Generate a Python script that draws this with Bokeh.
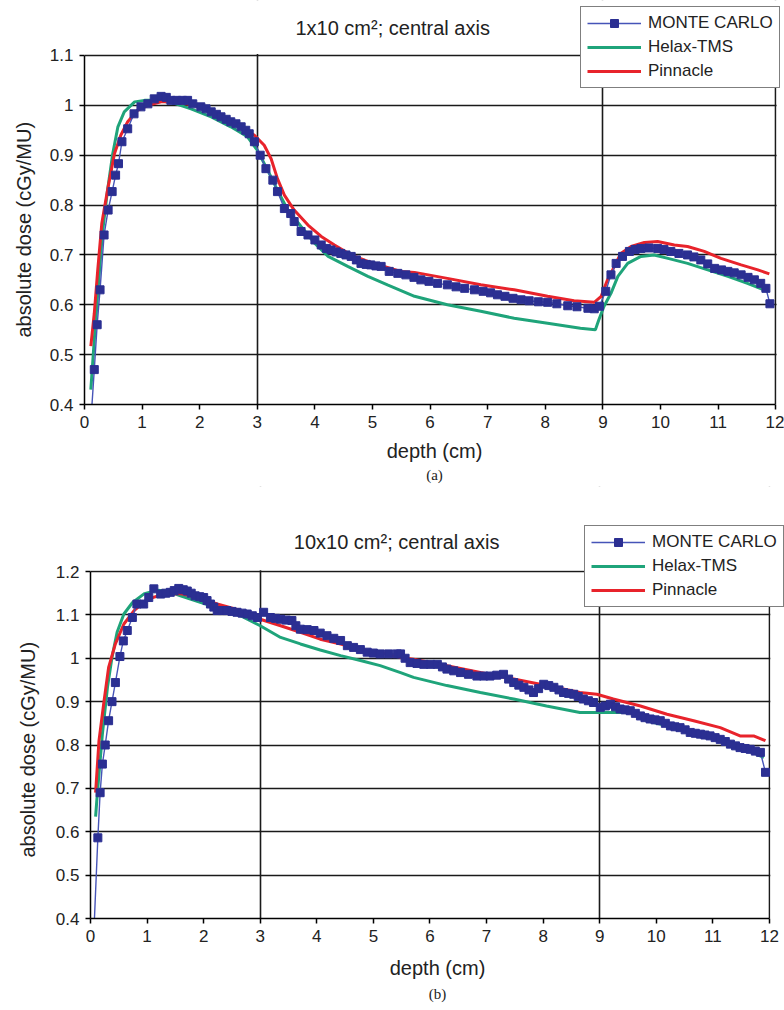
from bokeh.plotting import figure
from bokeh.models import (FixedTicker, CustomJSTickFormatter, Legend, LegendItem,
                          Label, Range1d, BoxAnnotation, Title)
from bokeh.embed import file_html
from bokeh.resources import INLINE

# ---------------- data: panel (a) 1x10 cm2 ----------------
a_title = "1x10 cm²; central axis"
a_mc_depth = [0.13, 0.17, 0.22, 0.27, 0.34, 0.41, 0.48, 0.54, 0.59, 0.65,
              0.75, 0.86, 0.98, 1.10, 1.21, 1.33, 1.42, 1.50, 1.60, 1.70,
              1.79, 1.88, 2.02, 2.11, 2.20, 2.29, 2.37, 2.46, 2.54, 2.63,
              2.72, 2.80, 2.86, 2.95, 3.05, 3.15, 3.27, 3.35, 3.47, 3.58,
              3.64, 3.76, 3.88, 4.00, 4.11, 4.20, 4.28, 4.37, 4.45, 4.54,
              4.63, 4.72, 4.80, 4.89, 4.97, 5.06, 5.15, 5.29, 5.44, 5.58,
              5.72, 5.84, 5.98, 6.13, 6.30, 6.45, 6.60, 6.77, 6.92, 7.05,
              7.17, 7.30, 7.44, 7.58, 7.72, 7.88, 8.04, 8.20, 8.39, 8.55,
              8.74, 8.85, 8.94, 9.05, 9.14, 9.23, 9.34, 9.46, 9.56, 9.66,
              9.80, 9.95, 10.06, 10.18, 10.32, 10.47, 10.58, 10.70, 10.82, 10.94,
              11.06, 11.17, 11.28, 11.40, 11.52, 11.63, 11.74, 11.83, 11.90]
a_mc_dose = [0.40, 0.47, 0.56, 0.63, 0.74, 0.79, 0.827, 0.86, 0.883, 0.927,
             0.953, 0.983, 0.997, 1.003, 1.013, 1.018, 1.016, 1.010, 1.010, 1.010,
             1.010, 1.003, 0.997, 0.993, 0.987, 0.982, 0.977, 0.972, 0.967, 0.963,
             0.957, 0.950, 0.943, 0.927, 0.900, 0.873, 0.850, 0.827, 0.793, 0.783,
             0.767, 0.747, 0.740, 0.730, 0.720, 0.713, 0.710, 0.706, 0.703, 0.700,
             0.697, 0.690, 0.683, 0.681, 0.680, 0.678, 0.677, 0.667, 0.663, 0.660,
             0.655, 0.650, 0.647, 0.643, 0.640, 0.636, 0.633, 0.630, 0.627, 0.624,
             0.620, 0.617, 0.613, 0.610, 0.608, 0.606, 0.605, 0.602, 0.598, 0.596,
             0.593, 0.592, 0.597, 0.627, 0.660, 0.683, 0.697, 0.707, 0.711, 0.713,
             0.714, 0.713, 0.711, 0.707, 0.703, 0.700, 0.696, 0.690, 0.682, 0.673,
             0.670, 0.667, 0.664, 0.660, 0.655, 0.650, 0.643, 0.633, 0.602]
a_helax_depth = [0.11, 0.17, 0.23, 0.31, 0.40, 0.49, 0.58, 0.69, 0.87, 1.04,
                 1.27, 1.56, 1.85, 2.20, 2.54, 2.83, 3.00, 3.18, 3.35, 3.53,
                 3.76, 4.00, 4.23, 4.57, 4.92, 5.26, 5.73, 6.30, 6.88, 7.46,
                 8.04, 8.61, 8.87, 8.93, 9.02, 9.14, 9.26, 9.43, 9.66, 9.89,
                 10.13, 10.47, 10.82, 11.17, 11.51, 11.86]
a_helax_dose = [0.430, 0.530, 0.623, 0.743, 0.830, 0.903, 0.957, 0.987, 1.007, 1.010,
                1.010, 1.004, 0.993, 0.977, 0.957, 0.937, 0.910, 0.870, 0.830, 0.790,
                0.757, 0.723, 0.697, 0.677, 0.657, 0.640, 0.617, 0.600, 0.587, 0.573,
                0.563, 0.553, 0.550, 0.570, 0.597, 0.623, 0.657, 0.683, 0.697, 0.700,
                0.693, 0.683, 0.670, 0.657, 0.643, 0.627]
a_pinn_depth = [0.11, 0.17, 0.23, 0.30, 0.40, 0.52, 0.63, 0.75, 0.92, 1.10,
                1.33, 1.56, 1.91, 2.31, 2.72, 2.95, 3.12, 3.24, 3.35, 3.47,
                3.64, 3.88, 4.11, 4.34, 4.63, 4.92, 5.20, 5.49, 5.73, 6.30,
                6.88, 7.46, 8.04, 8.50, 8.85, 8.97, 9.08, 9.20, 9.31, 9.49,
                9.72, 9.95, 10.24, 10.47, 10.76, 11.05, 11.40, 11.69, 11.89]
a_pinn_dose = [0.517, 0.583, 0.670, 0.763, 0.830, 0.903, 0.940, 0.967, 0.990, 1.000,
               1.007, 1.007, 1.000, 0.980, 0.957, 0.940, 0.920, 0.893, 0.853, 0.820,
               0.790, 0.760, 0.737, 0.720, 0.700, 0.687, 0.677, 0.667, 0.665, 0.653,
               0.640, 0.630, 0.617, 0.608, 0.605, 0.617, 0.650, 0.677, 0.703, 0.717,
               0.725, 0.727, 0.720, 0.717, 0.707, 0.693, 0.680, 0.670, 0.662]
a_y_ticks = [0.4, 0.5, 0.6, 0.7, 0.8, 0.9, 1.0, 1.1]

# ---------------- data: panel (b) 10x10 cm2 ----------------
b_title = "10x10 cm²; central axis"
b_mc_depth = [0.07, 0.13, 0.17, 0.21, 0.26, 0.32, 0.38, 0.44, 0.52, 0.58,
              0.65, 0.74, 0.82, 0.94, 1.03, 1.12, 1.24, 1.33, 1.41, 1.48,
              1.56, 1.64, 1.71, 1.78, 1.85, 1.93, 2.00, 2.06, 2.12, 2.18,
              2.24, 2.33, 2.41, 2.50, 2.59, 2.68, 2.77, 2.86, 2.95, 3.06,
              3.18, 3.27, 3.36, 3.46, 3.56, 3.63, 3.71, 3.83, 3.95, 4.06,
              4.18, 4.30, 4.42, 4.54, 4.65, 4.77, 4.89, 5.00, 5.12, 5.27,
              5.42, 5.48, 5.56, 5.65, 5.77, 5.89, 6.01, 6.13, 6.22, 6.30,
              6.42, 6.54, 6.68, 6.83, 6.95, 7.06, 7.18, 7.30, 7.39, 7.48,
              7.57, 7.66, 7.75, 7.83, 7.92, 8.01, 8.10, 8.19, 8.28, 8.36,
              8.45, 8.54, 8.62, 8.71, 8.80, 8.89, 9.01, 9.10, 9.19, 9.28,
              9.36, 9.45, 9.54, 9.63, 9.72, 9.80, 9.89, 9.98, 10.07, 10.16,
              10.25, 10.33, 10.42, 10.51, 10.60, 10.69, 10.78, 10.86, 10.95, 11.04,
              11.13, 11.22, 11.31, 11.40, 11.48, 11.57, 11.66, 11.75, 11.84, 11.93]
b_mc_dose = [0.40, 0.586, 0.69, 0.756, 0.80, 0.856, 0.90, 0.944, 1.004, 1.04,
             1.064, 1.094, 1.125, 1.125, 1.14, 1.16, 1.148, 1.150, 1.152, 1.156,
             1.161, 1.158, 1.155, 1.150, 1.144, 1.142, 1.140, 1.133, 1.125, 1.118,
             1.110, 1.110, 1.110, 1.108, 1.106, 1.104, 1.102, 1.098, 1.094, 1.106,
             1.094, 1.092, 1.090, 1.088, 1.087, 1.075, 1.067, 1.066, 1.064, 1.058,
             1.052, 1.046, 1.041, 1.029, 1.025, 1.020, 1.014, 1.012, 1.010, 1.010,
             1.010, 1.010, 1.000, 0.990, 0.988, 0.986, 0.986, 0.986, 0.980, 0.975,
             0.971, 0.967, 0.963, 0.959, 0.959, 0.959, 0.961, 0.963, 0.952, 0.944,
             0.938, 0.933, 0.927, 0.921, 0.930, 0.940, 0.937, 0.933, 0.927, 0.921,
             0.919, 0.917, 0.912, 0.906, 0.902, 0.898, 0.887, 0.890, 0.894, 0.888,
             0.883, 0.881, 0.879, 0.873, 0.867, 0.863, 0.860, 0.858, 0.856, 0.850,
             0.844, 0.842, 0.840, 0.835, 0.829, 0.827, 0.825, 0.823, 0.821, 0.817,
             0.813, 0.808, 0.802, 0.798, 0.794, 0.792, 0.790, 0.786, 0.783, 0.737]
b_helax_depth = [0.09, 0.12, 0.21, 0.30, 0.38, 0.47, 0.59, 0.74, 0.94, 1.18,
                 1.36, 1.59, 1.94, 2.30, 2.65, 3.00, 3.36, 3.71, 4.06, 4.42,
                 4.77, 5.12, 5.48, 5.71, 6.30, 6.89, 7.48, 8.06, 8.65, 9.01,
                 9.54, 9.84, 10.19, 10.54, 10.90, 11.25, 11.60, 11.90]
b_helax_dose = [0.635, 0.687, 0.825, 0.933, 1.002, 1.060, 1.102, 1.128, 1.148, 1.157,
                1.155, 1.144, 1.129, 1.114, 1.098, 1.075, 1.048, 1.033, 1.019, 1.006,
                0.995, 0.983, 0.967, 0.956, 0.937, 0.921, 0.906, 0.890, 0.875, 0.875,
                0.875, 0.856, 0.844, 0.833, 0.821, 0.810, 0.790, 0.771]
b_pinn_depth = [0.09, 0.15, 0.24, 0.32, 0.44, 0.59, 0.77, 1.00, 1.30, 1.59,
                1.89, 2.24, 2.65, 3.00, 3.36, 3.71, 4.06, 4.42, 4.77, 5.12,
                5.48, 5.71, 6.30, 6.89, 7.48, 8.06, 8.65, 8.95, 9.24, 9.72,
                10.19, 10.66, 11.13, 11.48, 11.72, 11.93]
b_pinn_dose = [0.690, 0.810, 0.902, 0.979, 1.033, 1.079, 1.110, 1.136, 1.148, 1.149,
               1.140, 1.125, 1.110, 1.090, 1.075, 1.060, 1.044, 1.033, 1.021, 1.013,
               1.002, 0.998, 0.983, 0.967, 0.952, 0.937, 0.921, 0.917, 0.906, 0.890,
               0.871, 0.856, 0.840, 0.821, 0.821, 0.810]
b_y_ticks = [0.4, 0.5, 0.6, 0.7, 0.8, 0.9, 1.0, 1.1, 1.2]

x_ticks = [0, 1, 2, 3, 4, 5, 6, 7, 8, 9, 10, 11, 12]
x_grid = [3, 9, 12]
series_names = ["MONTE CARLO", "Helax-TMS", "Pinnacle"]
x_label = "depth (cm)"
y_label = "absolute dose (cGy/MU)"

FONT = "Liberation Sans"
MC_LINE = "#4654b8"
MC_MARK = "#2b2f92"
GREEN = "#1fa47a"
RED = "#e8232b"
INK = "#222222"


def panel(title, tag, mc_x, mc_y, hx_x, hx_y, pn_x, pn_y, y_ticks, x_end, y_top,
          height, mb_left, mb_bottom, ylab_offset, ylab_standoff, tag_standoff,
          title_xy, legend_loc, xlabel_standoff):
    y_min, y_max = y_ticks[0], y_ticks[-1]
    x_min, x_max = x_ticks[0], x_ticks[-1]
    p = figure(width=784, height=height, output_backend="svg", toolbar_location=None,
               x_range=Range1d(x_min, x_end), y_range=Range1d(y_min, y_top),
               min_border_left=mb_left, min_border_right=0,
               min_border_top=0, min_border_bottom=mb_bottom,
               background_fill_color="white", border_fill_color="white")
    p.outline_line_color = None

    hx = p.line(hx_x, hx_y, line_color=GREEN, line_width=3)
    pn = p.line(pn_x, pn_y, line_color=RED, line_width=3)
    mcl = p.line(mc_x, mc_y, line_color=MC_LINE, line_width=1.4)
    mcs = p.scatter(mc_x[1:], mc_y[1:], marker="square", size=8,
                    fill_color=MC_MARK, line_color=MC_MARK)

    # axes
    p.xaxis.ticker = FixedTicker(ticks=x_ticks)
    p.xaxis.bounds = (x_min, x_max)
    p.yaxis.ticker = FixedTicker(ticks=y_ticks)
    p.yaxis.bounds = (y_min, y_max)
    p.yaxis.formatter = CustomJSTickFormatter(
        code="return (Math.round(tick*10)/10).toString();")
    for ax in (p.xaxis[0], p.yaxis[0]):
        ax.axis_line_color = "black"
        ax.axis_line_width = 1.5
        ax.major_tick_line_color = "black"
        ax.major_tick_line_width = 1.5
        ax.major_tick_out = 5
        ax.major_tick_in = 0
        ax.minor_tick_line_color = None
        ax.major_label_text_font = FONT
        ax.major_label_text_font_size = "17px"
        ax.major_label_text_color = INK
        ax.major_label_standoff = 6
        ax.axis_label_text_font = FONT
        ax.axis_label_text_font_size = "20px"
        ax.axis_label_text_font_style = "normal"
        ax.axis_label_text_color = INK
    p.xaxis.axis_label = x_label
    p.xaxis.axis_label_standoff = xlabel_standoff

    # y-axis title, positioned along the plotting box (not the full frame)
    p.add_layout(Title(text=y_label, align="left", vertical_align="top",
                       offset=ylab_offset, standoff=ylab_standoff,
                       text_font=FONT, text_font_size="20px",
                       text_font_style="normal", text_color=INK), "left")

    # grid (top border = top gridline, right border = gridline at 12)
    p.xgrid.ticker = FixedTicker(ticks=x_grid)
    p.ygrid.ticker = FixedTicker(ticks=y_ticks)
    for g in (p.xgrid[0], p.ygrid[0]):
        g.grid_line_color = "#1a1a1a"
        g.grid_line_width = 1.6

    # blank areas above / right of the plotting box (hold title and legend)
    p.add_layout(BoxAnnotation(left=x_min - 1, right=x_end + 1, bottom=y_max + 0.003,
                               top=y_top + 1, fill_color="white", fill_alpha=1.0,
                               line_color=None))
    p.add_layout(BoxAnnotation(left=x_max + 0.016, right=x_end + 1, bottom=y_min - 1,
                               top=y_top + 1, fill_color="white", fill_alpha=1.0,
                               line_color=None))

    p.add_layout(Label(x=title_xy[0], y=title_xy[1], text=title,
                       text_font=FONT, text_font_size="20px", text_color=INK,
                       text_align="center", text_baseline="middle"))

    p.add_layout(Title(text=tag, align="center", text_font="Liberation Serif",
                       text_font_size="15px", text_font_style="normal",
                       text_color=INK, standoff=tag_standoff), "below")

    legend = Legend(items=[LegendItem(label=series_names[0], renderers=[mcl, mcs]),
                           LegendItem(label=series_names[1], renderers=[hx]),
                           LegendItem(label=series_names[2], renderers=[pn])],
                    location=legend_loc)
    legend.label_text_font = FONT
    legend.label_text_font_size = "17px"
    legend.label_text_color = INK
    legend.glyph_width = 54
    legend.glyph_height = 20
    legend.label_height = 20
    legend.label_standoff = 7
    legend.spacing = 4
    legend.padding = 6
    legend.margin = 0
    legend.border_line_color = "black"
    legend.border_line_width = 1.5
    legend.background_fill_color = "white"
    legend.background_fill_alpha = 1.0
    p.add_layout(legend)
    return p


p1 = panel(a_title, "(a)", a_mc_depth, a_mc_dose, a_helax_depth, a_helax_dose,
           a_pinn_depth, a_pinn_dose, a_y_ticks, x_end=12.153, y_top=1.2103,
           height=486, mb_left=84, mb_bottom=82, ylab_offset=67, ylab_standoff=19,
           tag_standoff=0, title_xy=(5.35, 1.156), legend_loc=(496, 316),
           xlabel_standoff=9)
p2 = panel(b_title, "(b)", b_mc_depth, b_mc_dose, b_helax_depth, b_helax_dose,
           b_pinn_depth, b_pinn_dose, b_y_ticks, x_end=12.266, y_top=1.396,
           height=524, mb_left=90, mb_bottom=92, ylab_offset=61, ylab_standoff=23,
           tag_standoff=5, title_xy=(5.41, 1.267), legend_loc=(494, 311),
           xlabel_standoff=12)

# two independent roots (so the plotting boxes keep their own left edges)
open("out.html", "w").write(file_html([p1, p2], INLINE))
